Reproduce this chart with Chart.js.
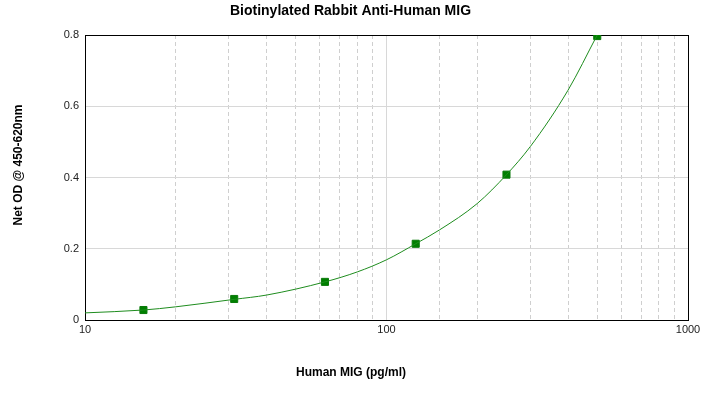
<!DOCTYPE html>
<html>
<head>
<meta charset="utf-8">
<script src="https://cdn.jsdelivr.net/npm/chart.js@4/dist/chart.umd.min.js"></script>
<style>
  body { margin: 0; background: #fff; }
</style>
</head>
<body>
<canvas id="chart" width="706" height="401"></canvas>
<script>
// Standard points (concentration pg/ml, net OD)
const conc = [15.625, 31.25, 62.5, 125, 250, 500];
const od = [0.028, 0.059, 0.107, 0.214, 0.408, 0.797];

// Fitted curve
const curveConc = [10, 15.625, 20, 31.25, 40, 62.5, 80, 100, 125, 150, 200, 250, 300, 400, 500];
const curveOd = [0.020, 0.028, 0.037, 0.058, 0.070, 0.107, 0.135, 0.169, 0.214, 0.253, 0.327, 0.408, 0.487, 0.645, 0.8];

const xLabels = [10, 100, 1000];
const yTicks = [0, 0.2, 0.4, 0.6, 0.8];

const FONT = "'Liberation Sans', Arial, sans-serif";

// Titles sit where the original put them (not centered on the plot)
const titles = {
  id: "titles",
  afterDraw(chart) {
    const ctx = chart.ctx;
    ctx.save();
    ctx.fillStyle = "#000";
    ctx.textAlign = "center";
    ctx.textBaseline = "middle";
    ctx.font = "bold 14px " + FONT;
    ctx.fillText("Biotinylated Rabbit Anti-Human MIG", 350.5, 11);
    ctx.font = "bold 12px " + FONT;
    ctx.fillText("Human MIG (pg/ml)", 351, 373);
    ctx.translate(19, 165);
    ctx.rotate(-Math.PI / 2);
    ctx.fillText("Net OD @ 450-620nm", 0, 0);
    ctx.restore();
  },
};

new Chart(document.getElementById("chart"), {
  type: "scatter",
  data: {
    datasets: [
      {
        label: "fit",
        data: curveConc.map((x, i) => ({ x, y: curveOd[i] })),
        showLine: true,
        borderColor: "#1e8c1e",
        borderWidth: 1,
        pointRadius: 0,
        cubicInterpolationMode: "monotone",
      },
      {
        label: "standards",
        data: conc.map((x, i) => ({ x, y: od[i] })),
        pointStyle: "rect",
        pointRadius: 5,
        backgroundColor: "#008000",
        borderColor: "#0a7a0a",
        borderWidth: 1,
      },
    ],
  },
  options: {
    responsive: false,
    animation: false,
    layout: { padding: { top: 35, right: 18 } },
    plugins: {
      legend: { display: false },
      tooltip: { enabled: false },
      title: { display: false },
    },
    scales: {
      x: {
        type: "logarithmic",
        min: 10,
        max: 1000,
        afterFit: (s) => { s.height = 81; },
        grid: {
          drawTicks: false,
          color: (c) => (c.tick && c.tick.value === 1000 ? "#000" : (c.tick && xLabels.includes(c.tick.value) ? "#d8d8d8" : "#cfcfcf")),
        },
        border: {
          color: "#000",
          width: 1,
          dash: (c) => (c.tick && xLabels.includes(c.tick.value) ? [] : [4, 3]),
        },
        ticks: {
          color: "#222",
          font: { family: FONT, size: 11 },
          padding: 3,
          autoSkip: false,
          maxRotation: 0,
          callback: (v) => (xLabels.includes(v) ? String(v) : ""),
        },
      },
      y: {
        min: 0,
        max: 0.8,
        afterFit: (s) => { s.width = 85; },
        afterBuildTicks: (s) => { s.ticks = yTicks.map((v) => ({ value: v })); },
        grid: {
          drawTicks: false,
          color: (c) => (c.tick && c.tick.value === 0.8 ? "#000" : "#d8d8d8"),
        },
        border: { color: "#000", width: 1 },
        ticks: {
          color: "#222",
          font: { family: FONT, size: 11 },
          padding: 6,
          callback: (v) => String(v),
        },
      },
    },
  },
  plugins: [titles],
});
</script>
</body>
</html>
